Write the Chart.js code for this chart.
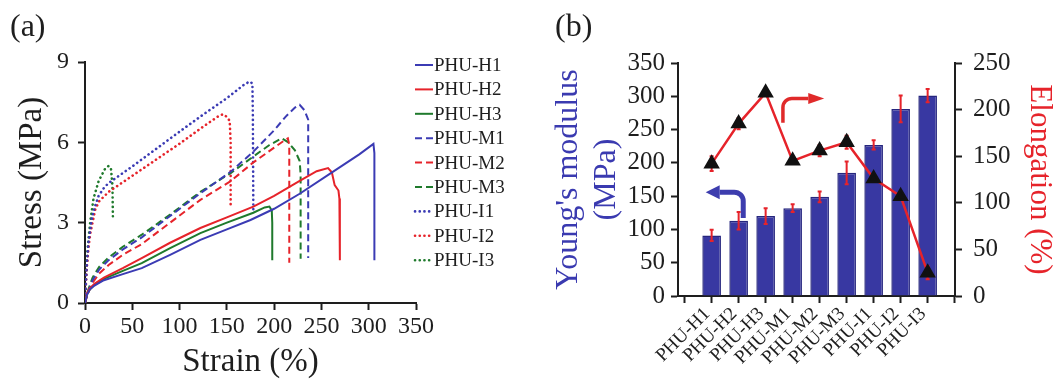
<!DOCTYPE html>
<html>
<head>
<meta charset="utf-8">
<script src="https://cdn.jsdelivr.net/npm/chart.js@4.4.1/dist/chart.umd.min.js"></script>
<style>
  html, body { margin: 0; padding: 0; background: #fff; }
  #wrap { position: relative; width: 1053px; height: 380px; }
  #stressChart { position: absolute; left: 0; top: 0; }
  #modulusChart { position: absolute; left: 540px; top: 0; }
</style>
</head>
<body>
<div id="wrap">
  <canvas id="stressChart" width="540" height="380"></canvas>
  <canvas id="modulusChart" width="513" height="380"></canvas>
</div>
<script>
// ---- (a) stress-strain curves: [strain %, stress MPa] ----
const phuH1 = [[0,0],[2,0.3],[5,0.5],[10,0.65],[20,0.85],[40,1.08],[60,1.3],[90,1.8],[122,2.36],[150,2.75],[175,3.1],[200,3.52],[227,4.08],[260,4.85],[290,5.55],[305,5.94],[306,5.6],[306,1.6]];
const phuH2 = [[0,0],[2,0.35],[5,0.55],[10,0.72],[20,0.95],[40,1.3],[60,1.68],[90,2.25],[122,2.8],[150,3.2],[178,3.6],[200,4.0],[227,4.56],[245,4.92],[257,5.04],[261,4.88],[264,4.4],[268,4.2],[269,3.9],[269.5,1.6]];
const phuH3 = [[0,0],[2,0.32],[5,0.5],[10,0.68],[20,0.9],[40,1.2],[60,1.49],[90,2.05],[122,2.61],[150,3.0],[178,3.37],[190,3.57],[195,3.6],[197.5,3.45],[198,3.0],[198,1.6]];
const phuM1 = [[0,0],[3,0.4],[8,0.85],[15,1.25],[25,1.6],[40,2.0],[60,2.45],[90,3.25],[122,4.1],[154,4.9],[178,5.65],[200,6.45],[212,6.95],[222,7.3],[227,7.4],[232,7.2],[236,6.85],[236,1.68]];
const phuM2 = [[0,0],[3,0.35],[8,0.75],[15,1.1],[25,1.42],[40,1.8],[60,2.2],[90,3.0],[122,3.85],[154,4.55],[178,5.25],[200,5.8],[212,6.1],[214.5,6.15],[216,5.9],[216,1.5]];
const phuM3 = [[0,0],[3,0.45],[8,0.95],[15,1.35],[25,1.7],[40,2.1],[60,2.55],[90,3.3],[122,4.15],[154,4.85],[178,5.47],[195,5.9],[208,6.15],[215,6.0],[222,5.7],[227,5.3],[228,4.8],[228,1.65]];
const phuI1 = [[0,0],[1,0.8],[2,1.5],[3.8,2.3],[7.3,3.17],[10,3.55],[14.4,4.0],[20,4.3],[25,4.48],[50,5.1],[75,5.75],[100,6.4],[123.5,7.0],[150,7.65],[168,8.15],[174,8.27],[177,8.2],[177.5,7.0],[178,3.5]];
const phuI2 = [[0,0],[1,0.7],[2,1.35],[3.8,2.1],[5.6,2.6],[10.9,3.5],[15,3.8],[25,4.15],[50,4.75],[75,5.35],[100,5.95],[123.5,6.55],[140,6.95],[146,7.05],[150,6.95],[153,6.8],[154,6.0],[154,3.65]];
const phuI3 = [[0,0],[0.5,0.6],[1.5,1.3],[2.5,1.9],[4,2.5],[5.6,3.05],[9,3.9],[14.4,4.55],[21,5.0],[25,5.12],[27.5,5.0],[29,4.4],[29.5,3.23]];

const curveNames = ["PHU-H1", "PHU-H2", "PHU-H3", "PHU-M1", "PHU-M2", "PHU-M3", "PHU-I1", "PHU-I2", "PHU-I3"];
const curves = [phuH1, phuH2, phuH3, phuM1, phuM2, phuM3, phuI1, phuI2, phuI3];

// ---- (b) modulus and elongation ----
const samples = ["PHU-H1", "PHU-H2", "PHU-H3", "PHU-M1", "PHU-M2", "PHU-M3", "PHU-I1", "PHU-I2", "PHU-I3"];
const modulus = [91, 113, 120, 132, 149, 185, 227, 281, 301];
const modulusErr = [8.5, 13, 12, 6, 8, 17, 7, 20, 10];
const elongation = [142, 185, 218, 145, 156, 165, 126, 107, 25];
const elongationErr = [8, 6, 3, 2, 6, 7, 3, 3, 7];

const SERIF = "'Liberation Serif', 'Times New Roman', serif";
const INK = "#1e1e1e";
const BLUE = "#3b3bb4";
const RED = "#e6232a";
const GREEN = "#1f7a2c";

const curveColors = [BLUE, RED, GREEN];
const dashes = [[], [7, 4], [0.1, 4.6]];

function makeCurveDatasets() {
  return curves.map((pts, i) => {
    const kind = Math.floor(i / 3);
    return {
      label: curveNames[i],
      data: pts.map(p => ({ x: p[0], y: p[1] })),
      borderColor: curveColors[i % 3],
      borderWidth: kind === 2 ? 2.6 : 2,
      borderDash: dashes[kind],
      borderCapStyle: kind === 2 ? "round" : "butt",
      pointRadius: 0,
      tension: 0
    };
  });
}

// legend of panel (a), drawn from the datasets
const curveLegend = {
  id: "curveLegend",
  afterDraw(chart) {
    const ctx = chart.ctx;
    const x0 = chart.chartArea.right - 1;
    const top = chart.chartArea.top + 3;
    ctx.save();
    ctx.font = "19px " + SERIF;
    ctx.textBaseline = "middle";
    chart.data.datasets.forEach((ds, i) => {
      const y = top + i * 24.4;
      ctx.strokeStyle = ds.borderColor;
      ctx.lineWidth = ds.borderWidth;
      ctx.lineCap = ds.borderCapStyle;
      ctx.setLineDash(ds.borderDash);
      ctx.beginPath();
      ctx.moveTo(x0, y);
      ctx.lineTo(x0 + 18, y);
      ctx.stroke();
      ctx.setLineDash([]);
      ctx.fillStyle = INK;
      ctx.fillText(ds.label, x0 + 19, y + 1);
    });
    ctx.restore();
  }
};

function axisGrid() {
  return { drawOnChartArea: false, tickLength: 7, tickWidth: 2, color: INK };
}

new Chart(document.getElementById("stressChart"), {
  type: "line",
  data: { datasets: makeCurveDatasets() },
  plugins: [curveLegend],
  options: {
    responsive: false,
    animation: false,
    layout: { padding: { left: 10, right: 124, top: 0, bottom: 0 } },
    plugins: {
      legend: { display: false },
      tooltip: { enabled: false },
      title: {
        display: true, text: "(a)", align: "start", color: INK,
        font: { family: SERIF, size: 32, weight: "normal" },
        padding: { top: 8, bottom: 15.6 }
      }
    },
    scales: {
      x: {
        type: "linear", min: 0, max: 350,
        ticks: { stepSize: 50, color: INK, padding: 2, font: { family: SERIF, size: 24 } },
        grid: axisGrid(),
        border: { color: INK, width: 2 },
        title: { display: true, text: "Strain (%)", color: INK, font: { family: SERIF, size: 33 }, padding: { top: 0, bottom: -2 } },
        afterFit: s => { s.height = 77; }
      },
      y: {
        min: 0, max: 9,
        ticks: { stepSize: 3, color: INK, padding: 9, font: { family: SERIF, size: 24 } },
        grid: axisGrid(),
        border: { color: INK, width: 2 },
        title: { display: true, text: "Stress (MPa)", color: INK, font: { family: SERIF, size: 33 }, padding: { top: 3, bottom: 0 } },
        afterFit: s => { s.width = 75; }
      }
    }
  }
});

// annotation arrows of panel (b), in axis units
const modulusArrow = { x: 2.17, from: 117, turn: 156, tip: 0.78 };
const elongationArrow = { x: 3.64, from: 186, turn: 212, tip: 5.17 };

function bentArrow(ctx, sx, sy, ty, tx, color, width, headLen, headHalf) {
  const dir = Math.sign(tx - sx);
  const r = 9;
  ctx.strokeStyle = color;
  ctx.fillStyle = color;
  ctx.lineWidth = width;
  ctx.beginPath();
  ctx.moveTo(sx, sy);
  ctx.lineTo(sx, ty + r);
  ctx.arcTo(sx, ty, sx + dir * r, ty, r);
  ctx.lineTo(tx - dir * headLen, ty);
  ctx.stroke();
  ctx.beginPath();
  ctx.moveTo(tx, ty);
  ctx.lineTo(tx - dir * headLen, ty - headHalf);
  ctx.lineTo(tx - dir * headLen, ty + headHalf);
  ctx.closePath();
  ctx.fill();
}

// error bars and arrows go on top of the bars, under the elongation line
const errorBars = {
  id: "errorBars",
  afterDatasetDraw(chart, args) {
    if (chart.data.datasets[args.index].type !== "bar") return;
    const { ctx } = chart;
    const { x, y, y2 } = chart.scales;
    const draw = (i, scale, v, e) => {
      const px = x.getPixelForValue(i + 1);
      const a = scale.getPixelForValue(v + e);
      const b = scale.getPixelForValue(v - e);
      ctx.beginPath();
      ctx.moveTo(px, a); ctx.lineTo(px, b);
      ctx.moveTo(px - 2, a); ctx.lineTo(px + 2, a);
      ctx.moveTo(px - 2, b); ctx.lineTo(px + 2, b);
      ctx.stroke();
    };
    ctx.save();
    ctx.strokeStyle = RED;
    ctx.lineWidth = 2;
    modulus.forEach((v, i) => draw(i, y, v, modulusErr[i]));
    elongation.forEach((v, i) => draw(i, y2, v, elongationErr[i]));

    bentArrow(ctx,
      x.getPixelForValue(modulusArrow.x), y.getPixelForValue(modulusArrow.from),
      y.getPixelForValue(modulusArrow.turn), x.getPixelForValue(modulusArrow.tip),
      "#3d3dae", 5, 14, 7);
    bentArrow(ctx,
      x.getPixelForValue(elongationArrow.x), y2.getPixelForValue(elongationArrow.from),
      y2.getPixelForValue(elongationArrow.turn), x.getPixelForValue(elongationArrow.tip),
      "#e02a2a", 3.5, 16, 5.5);
    ctx.restore();
  }
};

new Chart(document.getElementById("modulusChart"), {
  type: "bar",
  data: {
    datasets: [
      {
        type: "line",
        label: "Elongation",
        data: elongation.map((v, i) => ({ x: i + 1, y: v })),
        yAxisID: "y2",
        borderColor: RED,
        borderWidth: 2.5,
        pointStyle: "triangle",
        pointRadius: 7,
        pointBackgroundColor: "#111",
        pointBorderColor: "#111",
        order: 0
      },
      {
        type: "bar",
        label: "Young's modulus",
        data: modulus.map((v, i) => ({ x: i + 1, y: v })),
        yAxisID: "y",
        backgroundColor: "#3838a2",
        borderColor: "#26267e",
        borderWidth: 1.5,
        barPercentage: 0.69,
        categoryPercentage: 1,
        order: 1
      }
    ]
  },
  plugins: [errorBars],
  options: {
    responsive: false,
    animation: false,
    layout: { padding: { left: 15, right: 0, top: 0, bottom: 0 } },
    plugins: {
      legend: { display: false },
      tooltip: { enabled: false },
      title: {
        display: true, text: "(b)", align: "start", color: INK,
        font: { family: SERIF, size: 32, weight: "normal" },
        padding: { top: 8, bottom: 16.6 }
      }
    },
    scales: {
      x: {
        type: "linear", min: 0.267, max: samples.length + 0.5,
        afterBuildTicks: s => {
          s.ticks = samples.map((_, i) => ({ value: i + 0.5 })).concat([{ value: samples.length + 0.5 }]);
        },
        ticks: {
          autoSkip: false, minRotation: 45, maxRotation: 45, labelOffset: 9, padding: 0,
          color: INK, font: { family: SERIF, size: 19 },
          callback: (v, i) => samples[i] || ""
        },
        grid: axisGrid(),
        border: { color: INK, width: 2 },
        afterFit: s => { s.height = 84; }
      },
      y: {
        position: "left", min: 0, max: 350,
        ticks: { stepSize: 50, color: INK, padding: 6, font: { family: SERIF, size: 25 } },
        grid: axisGrid(),
        border: { color: INK, width: 2 },
        title: {
          display: true, text: ["Young's modulus", "(MPa)"], color: "#3a3ab0",
          font: { family: SERIF, size: 32 }, padding: { top: -6, bottom: 0 }
        },
        afterFit: s => { s.width = 123; }
      },
      y2: {
        position: "right", min: 0, max: 250,
        ticks: { stepSize: 50, color: INK, padding: 11, font: { family: SERIF, size: 25 } },
        grid: axisGrid(),
        border: { color: INK, width: 2 },
        title: {
          display: true, text: "Elongation (%)", color: RED,
          font: { family: SERIF, size: 31 }, padding: { top: -5, bottom: 0 }
        },
        afterFit: s => { s.width = 98; }
      }
    }
  }
});
</script>
</body>
</html>
